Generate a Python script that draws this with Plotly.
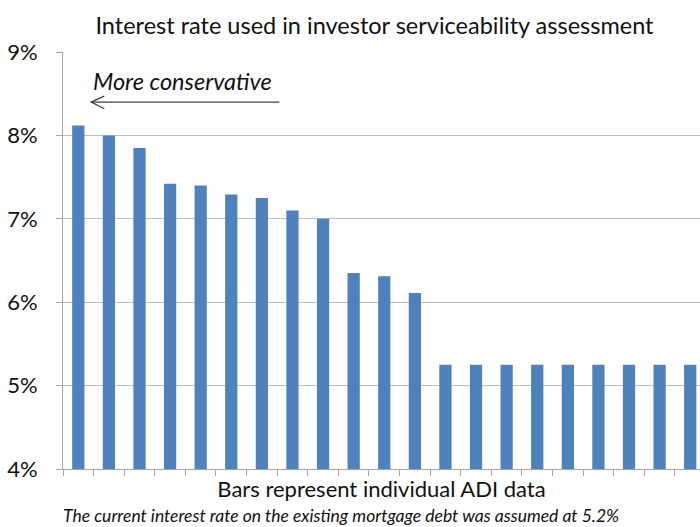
import plotly.graph_objects as go

# Serviceability assessment rate reported by each ADI (percent)
adi_index = list(range(21))
assessment_rate = [8.12, 8.00, 7.85, 7.42, 7.40, 7.29, 7.25, 7.10, 7.00,
                   6.35, 6.31, 6.11,
                   5.25, 5.25, 5.25, 5.25, 5.25, 5.25, 5.25, 5.25, 5.25]
y_ticks = [4, 5, 6, 7, 8, 9]
y_tick_labels = ["4%", "5%", "6%", "7%", "8%", "9%"]

FONT = "Lato, 'Open Sans', sans-serif"

fig = go.Figure(
    go.Bar(
        x=adi_index,
        y=assessment_rate,
        width=0.4,
        marker=dict(color="#4F81BD", line=dict(width=0)),
        hoverinfo="y",
    )
)

fig.update_layout(
    width=700,
    height=527,
    margin=dict(l=63, r=0, t=52, b=58),
    paper_bgcolor="white",
    plot_bgcolor="white",
    showlegend=False,
    title=dict(
        text="Interest rate used in investor serviceability assessment",
        x=0.535, xanchor="center",
        y=0.951, yanchor="middle",
        font=dict(family=FONT, size=23.5, color="#111111"),
    ),
    font=dict(family=FONT, color="#111111"),
)

fig.update_xaxes(
    range=[-0.5, 20.32],
    tickvals=[i + 0.5 for i in range(-1, 21)],
    ticktext=["" for _ in range(-1, 21)],
    ticks="outside",
    ticklen=6,
    tickcolor="#A6A6A6",
    showgrid=False,
    showline=True,
    linecolor="#A6A6A6",
    linewidth=1,
    zeroline=False,
    title=dict(
        text="Bars represent individual ADI data",
        font=dict(family=FONT, size=22, color="#111111"),
        standoff=4,
    ),
)

fig.update_yaxes(
    range=[4, 9],
    tickvals=y_ticks,
    ticktext=y_tick_labels,
    ticks="outside",
    ticklen=6,
    tickcolor="#A6A6A6",
    showgrid=True,
    gridcolor="#BFBFBF",
    gridwidth=1,
    showline=True,
    linecolor="#A6A6A6",
    linewidth=1,
    zeroline=False,
    ticklabelstandoff=14,
    tickfont=dict(family=FONT, size=22, color="#111111"),
)

# Direction note with a leftward open arrow
fig.add_annotation(
    x=-0.5, xref="x", xanchor="left", xshift=28,
    y=8.65, yref="y", yanchor="middle",
    text="<i>More conservative</i>",
    showarrow=False,
    font=dict(family=FONT, size=23.5, color="#111111"),
)
arrow_y = 8.4
arrow_tip, arrow_tail = 0.42, 6.57
fig.add_shape(
    type="line", xref="x", yref="y",
    x0=arrow_tip, x1=arrow_tail, y0=arrow_y, y1=arrow_y,
    line=dict(color="#404040", width=1.3),
)
fig.add_shape(
    type="path", xref="x", yref="y",
    path=(f"M {arrow_tip + 0.43} {arrow_y + 0.07} "
          f"L {arrow_tip} {arrow_y} "
          f"L {arrow_tip + 0.43} {arrow_y - 0.08}"),
    line=dict(color="#404040", width=1.3),
)

# Footnote
fig.add_annotation(
    x=0, xref="paper", xanchor="left", xshift=-2,
    y=0, yref="paper", yanchor="top", yshift=-34,
    text="<i>The current interest rate on the existing mortgage debt was assumed at 5.2%</i>",
    showarrow=False,
    font=dict(family=FONT, size=17.5, color="#111111"),
)

fig.write_html("out.html")
